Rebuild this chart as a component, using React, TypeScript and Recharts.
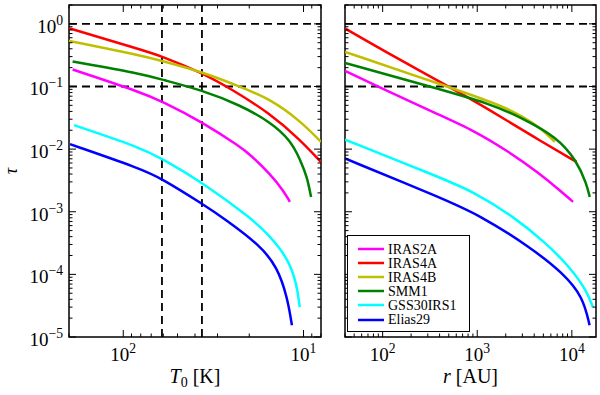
import React from 'react';
import { LineChart, Line, XAxis, YAxis, ReferenceLine, ReferenceArea, Legend } from 'recharts';

const FONT = '"Liberation Serif", "DejaVu Serif", serif';

const SOURCES = ['IRAS2A', 'IRAS4A', 'IRAS4B', 'SMM1', 'GSS30IRS1', 'Elias29'];
const COLORS = ['#ff00ff', '#ff0000', '#bfbf00', '#008000', '#00ffff', '#0000ff'];

// left panel: tau against T0 [K]
const t0IRAS2A = [191, 80.7, 61.1, 36.6, 22.4, 19.7, 15.3, 12.9, 11.9];
const tauT0IRAS2A = [0.187, 0.082, 0.058, 0.0272, 0.01084, 0.0081, 0.004, 0.00215, 0.00144];
const t0IRAS4A = [200, 80.7, 61.1, 36.6, 25.5, 15.3, 10.4, 8.0];
const tauT0IRAS4A = [0.85, 0.39, 0.305, 0.165, 0.0929, 0.0371, 0.0139, 0.0062];
const t0IRAS4B = [200, 80.7, 61.1, 36.6, 22.4, 15.3, 10.4, 8.0];
const tauT0IRAS4B = [0.535, 0.316, 0.256, 0.171, 0.0986, 0.063, 0.028, 0.013];
const t0SMM1 = [191, 80.7, 61.1, 36.6, 22.4, 15.3, 11.8, 10.4, 9.56, 9.08];
const tauT0SMM1 = [0.251, 0.161, 0.129, 0.0873, 0.0502, 0.0272, 0.0139, 0.00665, 0.0036, 0.00172];
const t0GSS30 = [187.5, 80.7, 61.1, 36.6, 18.9, 15.9, 12.3, 10.9, 10.5];
const tauT0GSS30 = [0.0241, 0.01062, 0.00708, 0.00299, 7.31e-4, 4.49e-4, 1.9e-4, 7.13e-5, 3.0e-5];
const t0Elias29 = [197.5, 80.7, 61.1, 36.6, 27.2, 17.4, 14.0, 12.3, 11.6];
const tauT0Elias29 = [0.012, 0.0049, 0.00339, 0.00135, 7.6e-4, 2.9e-4, 1.31e-4, 4.35e-5, 1.54e-5];

// right panel: tau against r [AU]
const rIRAS2A = [40, 93.7, 403, 905, 2039, 4583, 7453, 10300];
const tauRIRAS2A = [0.177, 0.0964, 0.0348, 0.02, 0.0096, 0.00407, 0.0022, 0.00144];
const rIRAS4A = [40, 140.6, 655, 2039, 4583, 11190];
const tauRIRAS4A = [0.845, 0.283, 0.08, 0.029, 0.0137, 0.00625];
const rIRAS4B = [40, 514, 2039, 4583, 6600];
const tauRIRAS4B = [0.357, 0.0964, 0.0472, 0.0226, 0.013];
const rSMM1 = [40, 342, 1359, 3053, 6879, 11190, 14270, 15460];
const tauRSMM1 = [0.238, 0.0964, 0.0535, 0.0308, 0.01567, 0.00665, 0.00282, 0.00172];
const rGSS30 = [40, 403, 905, 2394, 5393, 9504, 14270, 16670];
const tauRGSS30 = [0.0142, 0.00352, 0.0021, 8.5e-4, 3.1e-4, 1.31e-4, 5.57e-5, 3.0e-5];
const rElias29 = [40, 403, 1066, 3594, 8076, 13130, 15390];
const tauRElias29 = [0.00708, 0.00169, 8.79e-4, 2.74e-4, 1.05e-4, 4.35e-5, 1.54e-5];

const T0_DOMAIN = [8, 200];
const R_DOMAIN = [40, 18000];
const TAU_DOMAIN = [1e-5, 2];
const T0_CUTS = [61, 36.6];
const TAU_CUTS = [1, 0.1];
const T0_LABELS = [10, 100];
const R_LABELS = [100, 1000, 10000];
const TAU_LABELS = [1e-5, 1e-4, 1e-3, 1e-2, 1e-1, 1];

const pairs = (xs: number[], ys: number[]) => xs.map((x, i) => ({ x, tau: ys[i] }));

const leftSeries = [
  pairs(t0IRAS2A, tauT0IRAS2A),
  pairs(t0IRAS4A, tauT0IRAS4A),
  pairs(t0IRAS4B, tauT0IRAS4B),
  pairs(t0SMM1, tauT0SMM1),
  pairs(t0GSS30, tauT0GSS30),
  pairs(t0Elias29, tauT0Elias29),
];
const rightSeries = [
  pairs(rIRAS2A, tauRIRAS2A),
  pairs(rIRAS4A, tauRIRAS4A),
  pairs(rIRAS4B, tauRIRAS4B),
  pairs(rSMM1, tauRSMM1),
  pairs(rGSS30, tauRGSS30),
  pairs(rElias29, tauRElias29),
];

// major + minor positions of a log axis (1..9 x 10^n inside the domain)
function logTicks([lo, hi]: number[]) {
  const out: number[] = [];
  for (let e = Math.floor(Math.log10(lo)); e <= Math.ceil(Math.log10(hi)); e++) {
    for (let k = 1; k < 10; k++) {
      const v = k * Math.pow(10, e);
      if (v >= lo * 0.9999 && v <= hi * 1.0001) out.push(v);
    }
  }
  return out;
}

const expOf = (v: number) => Math.round(Math.log10(v));
const isLabelled = (v: number, labels: number[]) =>
  labels.some((l) => Math.abs(v / l - 1) < 1e-6);

const MAJOR = 7;
const MINOR = 3.5;

function Pow10({ x, y, v, anchor, size }: any) {
  const e = expOf(v);
  return (
    <text x={x} y={y} textAnchor={anchor} fontFamily={FONT} fontSize={size} fill="#000">
      10
      <tspan dy={-8} fontSize={size * 0.72}>{e < 0 ? '\u2212' + -e : e}</tspan>
    </text>
  );
}

// bottom axis tick: inward mark at bottom and top of the frame
function XTick({ x, y, payload, top, labels }: any) {
  const v = payload.value;
  const lab = isLabelled(v, labels);
  const len = lab ? MAJOR : MINOR;
  return (
    <g>
      <line x1={x} x2={x} y1={y} y2={y - len} stroke="#000" />
      <line x1={x} x2={x} y1={top} y2={top + len} stroke="#000" />
      {lab && <Pow10 x={x} y={y + 24} v={v} anchor="middle" size={19} />}
    </g>
  );
}

// left axis tick: inward mark on the left and right of the frame
function YTick({ x, y, payload, right, labels, showLabels }: any) {
  const v = payload.value;
  const lab = isLabelled(v, labels);
  const len = lab ? MAJOR : MINOR;
  return (
    <g>
      <line x1={x} x2={x + len} y1={y} y2={y} stroke="#000" />
      <line x1={right} x2={right - len} y1={y} y2={y} stroke="#000" />
      {lab && showLabels && <Pow10 x={x - 6} y={y + 9} v={v} anchor="end" size={19} />}
    </g>
  );
}

function T0Title({ viewBox }: any) {
  const { x, y, width } = viewBox;
  return (
    <text x={x + width / 2} y={y + 46} textAnchor="middle" fontFamily={FONT} fontSize={20} fill="#000">
      <tspan fontStyle="italic">T</tspan>
      <tspan fontSize={14} dy={4}>0</tspan>
      <tspan dy={-4}>{'\u00a0[K]'}</tspan>
    </text>
  );
}

function RTitle({ viewBox }: any) {
  const { x, y, width } = viewBox;
  return (
    <text x={x + width / 2} y={y + 46} textAnchor="middle" fontFamily={FONT} fontSize={20} fill="#000">
      <tspan fontStyle="italic">r</tspan>
      <tspan>{'\u00a0[AU]'}</tspan>
    </text>
  );
}

function TauTitle({ viewBox }: any) {
  const { y, height } = viewBox;
  const cx = 17;
  const cy = y + height / 2;
  return (
    <text x={cx} y={cy} transform={`rotate(-90, ${cx}, ${cy})`} textAnchor="middle"
      fontFamily={FONT} fontStyle="italic" fontSize={18} fill="#000">
      τ
    </text>
  );
}

function LegendBox() {
  return (
    <div style={{
      border: '1px solid #000', background: '#fff', width: 123, height: 97,
      boxSizing: 'border-box', padding: '6px 0 0 10px', fontFamily: FONT,
    }}>
      {SOURCES.map((name, i) => (
        <div key={name} style={{ display: 'flex', alignItems: 'center', height: 14.1 }}>
          <svg width={26} height={6} style={{ marginRight: 4 }}>
            <line x1={0} x2={26} y1={3} y2={3} stroke={COLORS[i]} strokeWidth={2.5} />
          </svg>
          <span style={{ fontSize: 14, lineHeight: '13px', color: '#000' }}>{name}</span>
        </div>
      ))}
    </div>
  );
}

const T0_TICKS = logTicks(T0_DOMAIN);
const R_TICKS = logTicks(R_DOMAIN);
const TAU_TICKS = logTicks(TAU_DOMAIN);

const dash = { stroke: '#000', strokeWidth: 1.8, strokeDasharray: '8 5' };

export default function App() {
  return (
    <div style={{ position: 'absolute', left: 0, top: 0, width: 600, height: 395, background: '#fff' }}>
      <div style={{ position: 'absolute', left: 0, top: 0 }}>
        <LineChart width={330} height={395} margin={{ top: 5, right: 9, bottom: 0, left: 9 }}>
          <XAxis
            dataKey="x" type="number" scale="log" domain={T0_DOMAIN} reversed allowDataOverflow
            ticks={T0_TICKS} interval={0} height={58} tickSize={0} tickMargin={0} axisLine={false}
            tick={(p: any) => <XTick {...p} top={5} labels={T0_LABELS} />}
            label={<T0Title />}
          />
          <YAxis
            dataKey="tau" type="number" scale="log" domain={TAU_DOMAIN} allowDataOverflow
            ticks={TAU_TICKS} interval={0} width={60} tickSize={0} tickMargin={0} axisLine={false}
            tick={(p: any) => <YTick {...p} right={321} labels={TAU_LABELS} showLabels />}
            label={<TauTitle />}
          />
          {TAU_CUTS.map((v) => <ReferenceLine key={'h' + v} y={v} {...dash} />)}
          {T0_CUTS.map((v) => <ReferenceLine key={'v' + v} x={v} {...dash} />)}
          {leftSeries.map((d, i) => (
            <Line key={SOURCES[i]} data={d} dataKey="tau" name={SOURCES[i]} type="basis"
              stroke={COLORS[i]} strokeWidth={2.5} dot={false} isAnimationActive={false} />
          ))}
          <ReferenceArea x1={T0_DOMAIN[0]} x2={T0_DOMAIN[1]} y1={TAU_DOMAIN[0]} y2={TAU_DOMAIN[1]}
            ifOverflow="visible" fill="none" stroke="#000" strokeWidth={1.5} fillOpacity={0} />
        </LineChart>
      </div>
      <div style={{ position: 'absolute', left: 330, top: 0 }}>
        <LineChart width={270} height={395} margin={{ top: 5, right: 4, bottom: 0, left: 0 }}>
          <XAxis
            dataKey="x" type="number" scale="log" domain={R_DOMAIN} allowDataOverflow
            ticks={R_TICKS} interval={0} height={58} tickSize={0} tickMargin={0} axisLine={false}
            tick={(p: any) => <XTick {...p} top={5} labels={R_LABELS} />}
            label={<RTitle />}
          />
          <YAxis
            dataKey="tau" type="number" scale="log" domain={TAU_DOMAIN} allowDataOverflow
            ticks={TAU_TICKS} interval={0} width={15} tickSize={0} tickMargin={0} axisLine={false}
            tick={(p: any) => <YTick {...p} right={266} labels={TAU_LABELS} showLabels={false} />}
          />
          {TAU_CUTS.map((v) => <ReferenceLine key={'h' + v} y={v} {...dash} />)}
          {rightSeries.map((d, i) => (
            <Line key={SOURCES[i]} data={d} dataKey="tau" name={SOURCES[i]} type="basis"
              stroke={COLORS[i]} strokeWidth={2.5} dot={false} isAnimationActive={false} />
          ))}
          <ReferenceArea x1={R_DOMAIN[0]} x2={R_DOMAIN[1]} y1={TAU_DOMAIN[0]} y2={TAU_DOMAIN[1]}
            ifOverflow="visible" fill="none" stroke="#000" strokeWidth={1.5} fillOpacity={0} />
          <Legend layout="vertical" align="center" verticalAlign="middle"
            wrapperStyle={{ left: 17, top: 235, width: 123, height: 97 }}
            content={<LegendBox />} />
        </LineChart>
      </div>
    </div>
  );
}
